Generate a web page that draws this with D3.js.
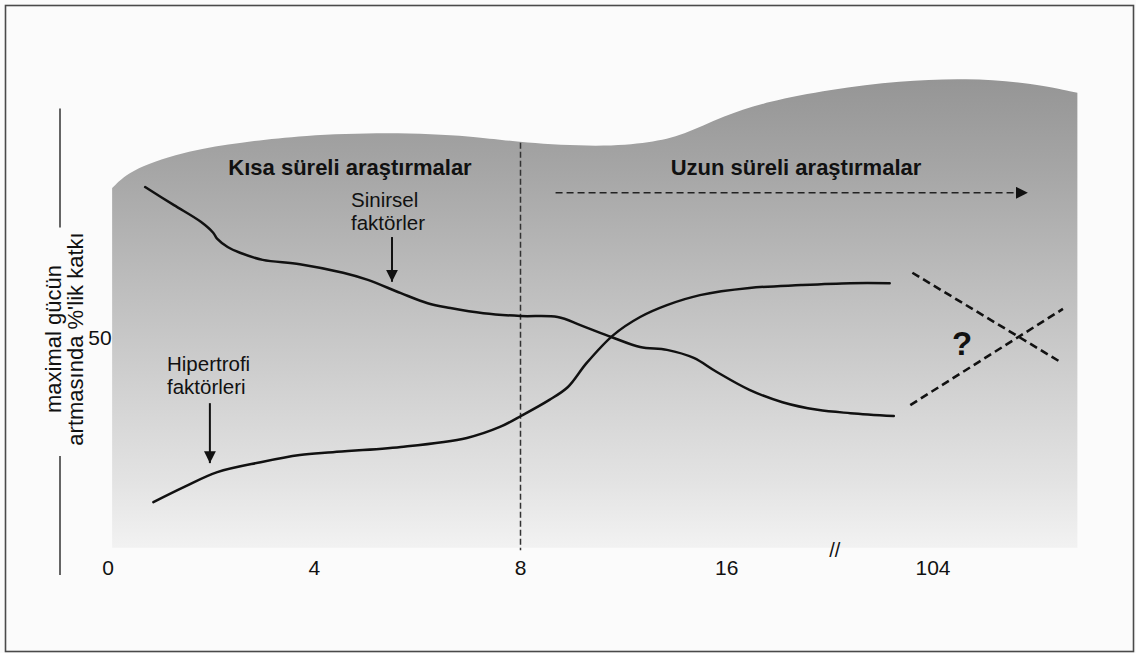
<!DOCTYPE html>
<html><head><meta charset="utf-8">
<script src="https://cdn.jsdelivr.net/npm/d3@7"></script>
<style>
html,body{margin:0;padding:0;background:#fbfbfb;}
svg{display:block;}
text{font-family:"Liberation Sans",Arial,Helvetica,sans-serif;fill:#111;}
</style></head>
<body>
<svg id="chart" width="1136" height="653"></svg>
<script>
// ---- data ----
const weekLabels = ["0", "4", "8", "16", "104"];
const yTickLabels = ["50"];
const yTickValues = [50];
// curves: [position on week axis (tick index units), % contribution]
const neuralX = [0.18,0.32,0.45,0.51,0.53,0.58,0.64,0.75,0.93,1.14,1.26,1.42,1.55,1.66,1.82,2.00,2.18,2.29,2.44,2.58,2.71,2.84,2.95,3.11,3.27,3.44,3.60,3.81];
const neuralY = [81.5,77.7,74.2,71.9,70.6,68.9,67.7,66.2,65.3,63.5,62.0,59.2,57.1,56.1,55.0,54.4,54.2,52.5,50.0,47.9,47.3,45.6,42.7,38.9,36.3,34.7,34.0,33.4];
const hyperX = [0.22,0.37,0.53,0.74,0.93,1.09,1.42,1.74,1.90,2.01,2.14,2.23,2.32,2.45,2.58,2.71,2.87,3.11,3.36,3.60,3.79];
const hyperY = [15.3,18.5,21.6,23.7,25.2,25.8,26.9,28.8,31.1,33.6,36.8,39.5,44.5,50.4,54.2,56.7,58.8,60.3,60.9,61.3,61.3];
// uncertain long-term projections (dashed X)
const projDownX = [3.90, 4.62], projDownY = [63.5, 44.7];
const projUpX = [3.89, 4.63], projUpY = [35.7, 55.9];
// background study-period band (top outline)
const bandX = [0.02,0.12,0.40,0.64,0.93,1.42,1.82,2.00,2.39,2.63,2.79,2.98,3.20,3.50,3.84,4.16,4.48,4.70];
const bandTop = [81.3,85.5,89.3,90.8,92.4,93.1,92.0,90.8,89.9,90.8,92.4,96.4,99.5,102.0,103.8,104.4,103.4,101.3];
const bandBottom = 5.7;
const periodTitles = ["Kısa süreli araştırmalar", "Uzun süreli araştırmalar"];
const yTitleLines = ["maximal gücün", "artmasında %'lik katkı"];
const neuralLabel = ["Sinirsel", "faktörler"];
const hyperLabel = ["Hipertrofi", "faktörleri"];

// ---- scales ----
const svg = d3.select("#chart");
const x = d3.scaleLinear().domain([0, 4]).range([108, 933]);
const y = d3.scaleLinear().domain([0, 100]).range([575, 99]);

// frame
svg.append("rect").attr("x",5.5).attr("y",5.5).attr("width",1128).attr("height",646)
  .attr("fill","#fbfbfb").attr("stroke","#4a4a4a").attr("stroke-width",1.6);

const defs = svg.append("defs");
const grad = defs.append("linearGradient").attr("id","bandGrad")
  .attr("gradientUnits","userSpaceOnUse")
  .attr("x1",0).attr("y1",78).attr("x2",0).attr("y2",y(bandBottom));
[[0,"#959595"],[0.2,"#a6a6a6"],[0.45,"#bebebe"],[0.68,"#d3d3d3"],[0.86,"#e3e3e3"],[1,"#f2f2f2"]]
  .forEach(([o,c]) => grad.append("stop").attr("offset",o).attr("stop-color",c));

const mk = defs.append("marker").attr("id","arrowHead").attr("viewBox","0 0 10 10")
  .attr("refX",10).attr("refY",5).attr("markerWidth",12).attr("markerHeight",12)
  .attr("markerUnits","userSpaceOnUse").attr("orient","auto");
mk.append("path").attr("d","M0,0 L10,5 L0,10 Z").attr("fill","#111");

// band
const bandPts = bandX.map((v,i)=>[v,bandTop[i]]);
const topLine = d3.line().x(d=>x(d[0])).y(d=>y(d[1])).curve(d3.curveBasis);
const topPath = topLine(bandPts);
const bandPath = topPath + `L${x(bandX[bandX.length-1])},${y(bandBottom)}L${x(bandX[0])},${y(bandBottom)}Z`;
svg.append("path").attr("d",bandPath).attr("fill","url(#bandGrad)");

// y axis (broken around title)
const yAxisX = 60;
svg.append("line").attr("x1",yAxisX).attr("x2",yAxisX).attr("y1",y(98)).attr("y2",y(73))
  .attr("stroke","#333").attr("stroke-width",1.5);
svg.append("line").attr("x1",yAxisX).attr("x2",yAxisX).attr("y1",y(25)).attr("y2",y(0))
  .attr("stroke","#333").attr("stroke-width",1.5);
svg.selectAll(".ytick").data(yTickValues).enter().append("text")
  .attr("x",100).attr("y",d=>y(d)+7.5).attr("text-anchor","middle")
  .attr("font-size",21).text((d,i)=>yTickLabels[i]);
const yTitle = svg.append("text").attr("transform",`translate(61,${y(50)+2}) rotate(-90)`)
  .attr("text-anchor","middle").attr("font-size",22);
yTitleLines.forEach((t,i)=>{
  yTitle.append("tspan").attr("x",0).attr("dy", i===0 ? 0 : 22).text(t);
});

// x tick labels
svg.selectAll(".xtick").data(weekLabels).enter().append("text")
  .attr("x",(d,i)=>x(i)).attr("y",575).attr("text-anchor","middle")
  .attr("font-size",21).text(d=>d);
// axis break mark
svg.append("text").attr("x",(x(3)+x(4))/2+5).attr("y",557).attr("text-anchor","middle")
  .attr("font-size",20).text("//");

// divider at week 8
svg.append("line").attr("x1",x(2)).attr("x2",x(2)).attr("y1",y(90.8)).attr("y2",y(5.2))
  .attr("stroke","#333").attr("stroke-width",1.5).attr("stroke-dasharray","6,3");

// period titles
svg.append("text").attr("x",350).attr("y",175).attr("text-anchor","middle")
  .attr("font-size",22).attr("font-weight","bold").text(periodTitles[0]);
svg.append("text").attr("x",796).attr("y",175).attr("text-anchor","middle")
  .attr("font-size",22).attr("font-weight","bold").text(periodTitles[1]);

// long-term dashed arrow
svg.append("line").attr("x1",x(2.17)).attr("x2",x(4.46)).attr("y1",y(80.3)).attr("y2",y(80.3))
  .attr("stroke","#222").attr("stroke-width",1.5).attr("stroke-dasharray","7,4")
  .attr("marker-end","url(#arrowHead)");

// curves
const line = d3.line().x(d=>x(d[0])).y(d=>y(d[1])).curve(d3.curveCatmullRom.alpha(0.5));
svg.append("path").datum(neuralX.map((v,i)=>[v,neuralY[i]])).attr("d",line)
  .attr("fill","none").attr("stroke","#111").attr("stroke-width",2.5).attr("stroke-linecap","round");
svg.append("path").datum(hyperX.map((v,i)=>[v,hyperY[i]])).attr("d",line)
  .attr("fill","none").attr("stroke","#111").attr("stroke-width",2.5).attr("stroke-linecap","round");

// projections
[[projDownX,projDownY],[projUpX,projUpY]].forEach(([px,py])=>{
  svg.append("line").attr("x1",x(px[0])).attr("y1",y(py[0])).attr("x2",x(px[1])).attr("y2",y(py[1]))
    .attr("stroke","#111").attr("stroke-width",2.6).attr("stroke-dasharray","8,4.5");
});
svg.append("text").attr("x",962).attr("y",355).attr("text-anchor","middle")
  .attr("font-size",33).attr("font-weight","900").text("?");

// annotations
neuralLabel.forEach((t,i)=> svg.append("text").attr("font-size",20.5)
  .attr("x",351).attr("y",207+23*i).text(t));
svg.append("line").attr("x1",x(1.377)).attr("x2",x(1.377)).attr("y1",y(71)).attr("y2",y(61.6))
  .attr("stroke","#111").attr("stroke-width",2).attr("marker-end","url(#arrowHead)");

hyperLabel.forEach((t,i)=> svg.append("text").attr("font-size",20.5)
  .attr("x",167).attr("y",371+23*i).text(t));
svg.append("line").attr("x1",x(0.494)).attr("x2",x(0.494)).attr("y1",y(36.1)).attr("y2",y(23.5))
  .attr("stroke","#111").attr("stroke-width",2).attr("marker-end","url(#arrowHead)");
</script>
</body></html>
